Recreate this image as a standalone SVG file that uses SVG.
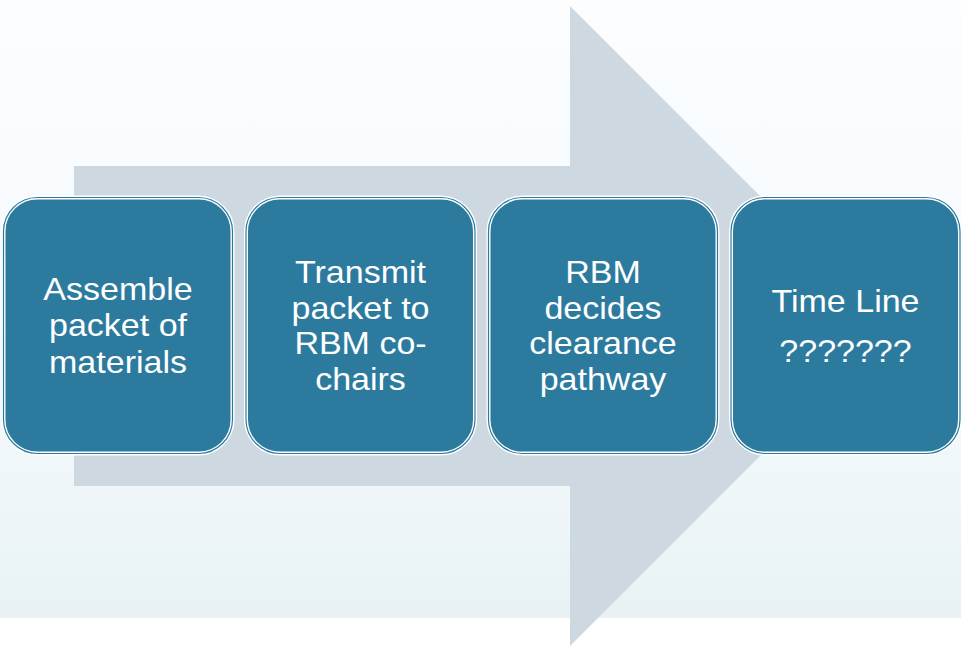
<svg xmlns="http://www.w3.org/2000/svg" width="961" height="646" viewBox="0 0 961 646">
  <defs>
    <linearGradient id="bg" x1="0" y1="0" x2="0" y2="1">
      <stop offset="0" stop-color="#fbfdff"/>
      <stop offset="0.6" stop-color="#f5fafc"/>
      <stop offset="1" stop-color="#e8f2f5"/>
    </linearGradient>
    <style>
      .box { fill: #2c7b9f; stroke: #ffffff; stroke-width: 4; }
      .edge { fill: none; stroke: #2c7b9f; stroke-width: 1.2; }
      .lbl { font-family: "Liberation Sans", Arial, sans-serif; font-size: 31.5px; fill: #ffffff; text-anchor: middle; }
    </style>
  </defs>
  <rect x="0" y="0" width="961" height="646" fill="#ffffff"/>
  <rect x="0" y="0" width="961" height="618" fill="url(#bg)"/>

  <g id="connectors">
    <polygon id="big-arrow" points="74,166 570,166 570,6 890,326 570,646 570,486 74,486" fill="#cdd8e0"/>
  </g>

  <g id="node1">
    <rect class="box" x="3.5" y="197.5" width="229" height="256" rx="34"/>
    <rect class="edge" x="3.5" y="197.5" width="229" height="256" rx="34"/>
    <g transform="translate(118,0) scale(1.08,1)">
      <text class="lbl" x="0" y="300">Assemble</text>
      <text class="lbl" x="0" y="336.3">packet of</text>
      <text class="lbl" x="0" y="372.6">materials</text>
    </g>
  </g>

  <g id="node2">
    <rect class="box" x="246" y="197.5" width="229" height="256" rx="34"/>
    <rect class="edge" x="246" y="197.5" width="229" height="256" rx="34"/>
    <g transform="translate(360.5,0) scale(1.08,1)">
      <text class="lbl" x="0" y="283.5">Transmit</text>
      <text class="lbl" x="0" y="319">packet to</text>
      <text class="lbl" x="0" y="354.5">RBM co-</text>
      <text class="lbl" x="0" y="390">chairs</text>
    </g>
  </g>

  <g id="node3">
    <rect class="box" x="488.5" y="197.5" width="229" height="256" rx="34"/>
    <rect class="edge" x="488.5" y="197.5" width="229" height="256" rx="34"/>
    <g transform="translate(603,0) scale(1.08,1)">
      <text class="lbl" x="0" y="283.5">RBM</text>
      <text class="lbl" x="0" y="319">decides</text>
      <text class="lbl" x="0" y="354.5">clearance</text>
      <text class="lbl" x="0" y="390">pathway</text>
    </g>
  </g>

  <g id="node4">
    <rect class="box" x="731" y="197.5" width="229" height="256" rx="34"/>
    <rect class="edge" x="731" y="197.5" width="229" height="256" rx="34"/>
    <g transform="translate(845.5,0) scale(1.08,1)">
      <text class="lbl" x="0" y="312">Time Line</text>
      <text class="lbl" x="0" y="362">???????</text>
    </g>
  </g>
</svg>
